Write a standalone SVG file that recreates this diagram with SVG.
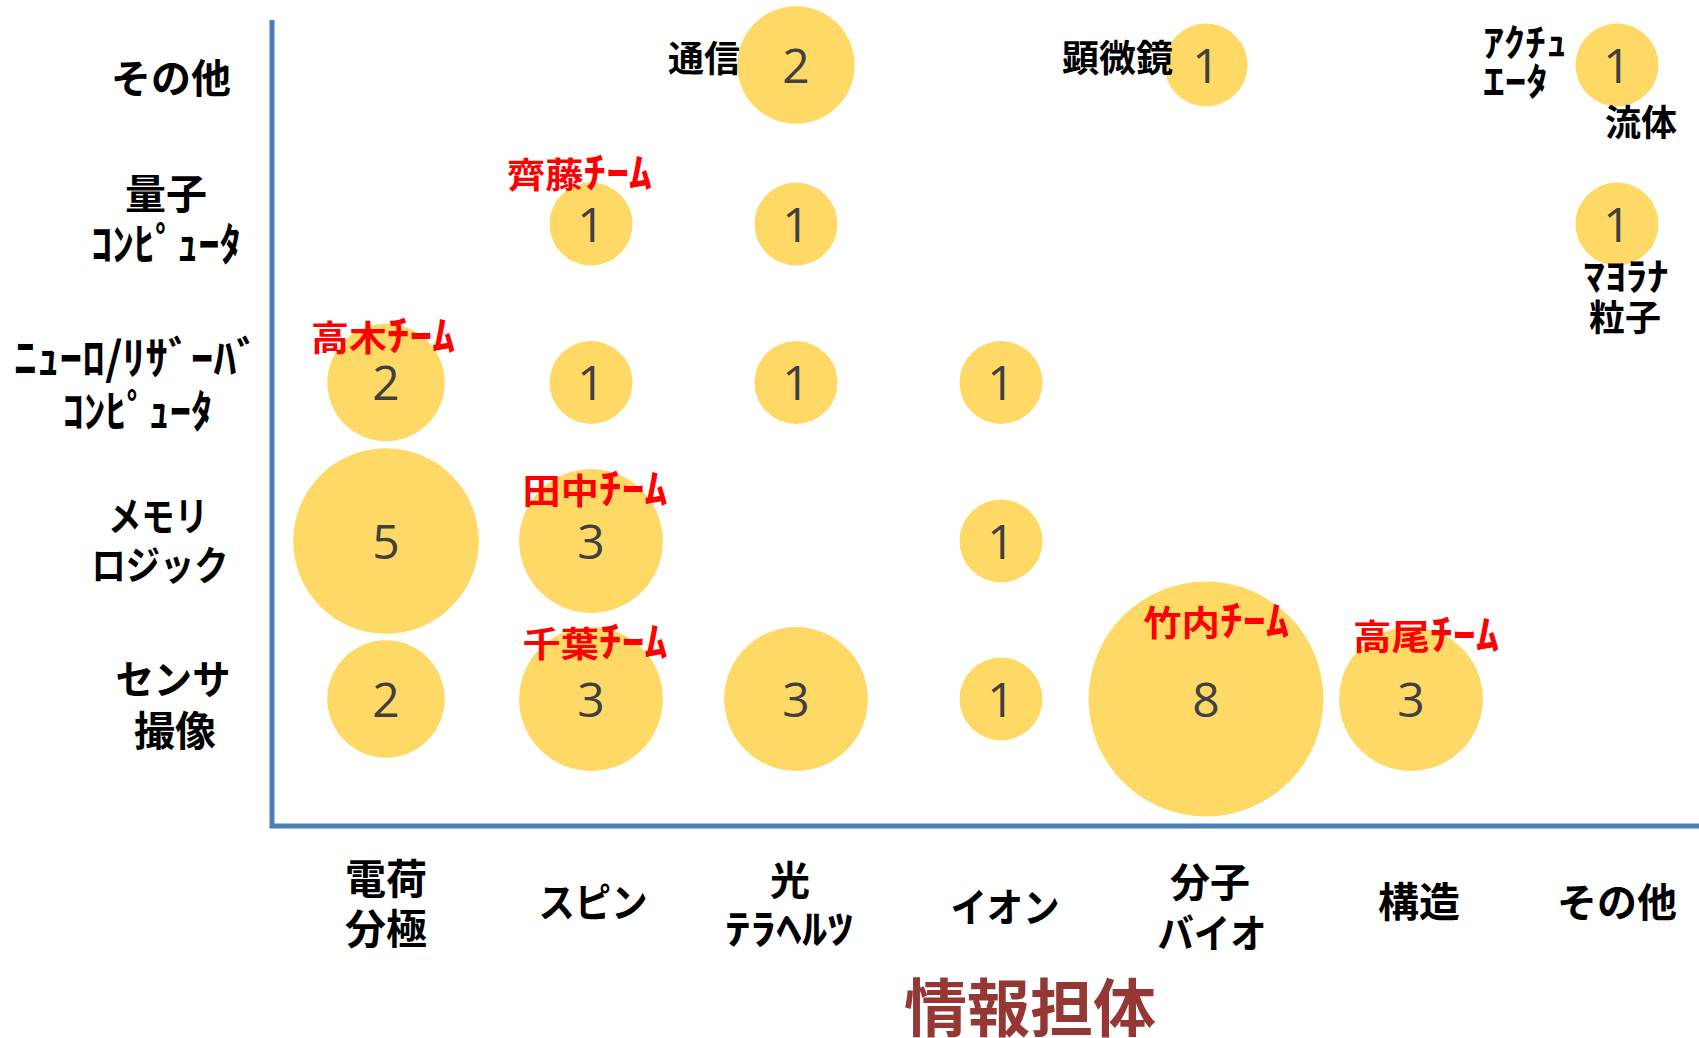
<svg xmlns="http://www.w3.org/2000/svg" width="1699" height="1038" viewBox="0 0 1699 1038">
<style>
.lbl{font-family:"Noto Sans CJK JP","Noto Sans",sans-serif;font-weight:700;fill:#000;text-anchor:middle}
.team{fill:#FF0000}
.title{fill:#953735}
.kana{font-size:42px}
.num{font-family:"Open Sans","Liberation Sans",sans-serif;font-size:48px;fill:#404040;text-anchor:middle}
.bub{fill:#FFD966}
.axis{fill:none;stroke:#4A7EBB;stroke-width:5}
</style>
<rect width="1699" height="1038" fill="#fff"/>
<g id="axes">
<polyline class="axis" points="272,20 272,826 1699,826"/>
</g>
<g id="connectors"/>
<g id="bubbles">
<g id="b-other-light"><circle class="bub" cx="796" cy="65" r="58.7"/><text class="num" x="796" y="82.5">2</text></g>
<g id="b-other-mol"><circle class="bub" cx="1206" cy="65" r="41.5"/><text class="num" x="1206" y="82.5">1</text></g>
<g id="b-other-other"><circle class="bub" cx="1617" cy="65" r="41.5"/><text class="num" x="1617" y="82.5">1</text></g>
<g id="b-qc-spin"><circle class="bub" cx="591" cy="224" r="41.5"/><text class="num" x="591" y="241.5">1</text></g>
<g id="b-qc-light"><circle class="bub" cx="796" cy="224" r="41.5"/><text class="num" x="796" y="241.5">1</text></g>
<g id="b-qc-other"><circle class="bub" cx="1617" cy="224" r="41.5"/><text class="num" x="1617" y="241.5">1</text></g>
<g id="b-nc-charge"><circle class="bub" cx="386" cy="382.5" r="58.7"/><text class="num" x="386" y="400">2</text></g>
<g id="b-nc-spin"><circle class="bub" cx="591" cy="382.5" r="41.5"/><text class="num" x="591" y="400">1</text></g>
<g id="b-nc-light"><circle class="bub" cx="796" cy="382.5" r="41.5"/><text class="num" x="796" y="400">1</text></g>
<g id="b-nc-ion"><circle class="bub" cx="1001" cy="382.5" r="41.5"/><text class="num" x="1001" y="400">1</text></g>
<g id="b-mem-charge"><circle class="bub" cx="386" cy="541" r="92.8"/><text class="num" x="386" y="558.5">5</text></g>
<g id="b-mem-spin"><circle class="bub" cx="591" cy="541" r="71.9"/><text class="num" x="591" y="558.5">3</text></g>
<g id="b-mem-ion"><circle class="bub" cx="1001" cy="541" r="41.5"/><text class="num" x="1001" y="558.5">1</text></g>
<g id="b-sen-charge"><circle class="bub" cx="386" cy="699" r="58.7"/><text class="num" x="386" y="716.5">2</text></g>
<g id="b-sen-spin"><circle class="bub" cx="591" cy="699" r="71.9"/><text class="num" x="591" y="716.5">3</text></g>
<g id="b-sen-light"><circle class="bub" cx="796" cy="699" r="71.9"/><text class="num" x="796" y="716.5">3</text></g>
<g id="b-sen-ion"><circle class="bub" cx="1001" cy="699" r="41.5"/><text class="num" x="1001" y="716.5">1</text></g>
<g id="b-sen-mol"><circle class="bub" cx="1206" cy="699" r="117.4"/><text class="num" x="1206" y="716.5">8</text></g>
<g id="b-sen-struct"><circle class="bub" cx="1411" cy="699" r="71.9"/><text class="num" x="1411" y="716.5">3</text></g>
</g>
<g id="row-labels">
<text class="lbl" x="171" y="93" font-size="40">その他</text>
<text class="lbl" x="166" y="209" font-size="41">量子</text>
<text class="lbl" x="166" y="261" font-size="45" textLength="150" lengthAdjust="spacingAndGlyphs">ｺﾝﾋﾟｭｰﾀ</text>
<text class="lbl" x="136.5" y="375" font-size="45" textLength="245" lengthAdjust="spacingAndGlyphs">ﾆｭｰﾛ/ﾘｻﾞｰﾊﾞ</text>
<text class="lbl" x="137.5" y="428" font-size="45" textLength="150" lengthAdjust="spacingAndGlyphs">ｺﾝﾋﾟｭｰﾀ</text>
<text class="lbl" x="158" y="531" font-size="40" textLength="100" lengthAdjust="spacingAndGlyphs">メモリ</text>
<text class="lbl" x="160" y="580" font-size="40" textLength="137" lengthAdjust="spacingAndGlyphs">ロジック</text>
<text class="lbl" x="173" y="694" font-size="40" textLength="115" lengthAdjust="spacingAndGlyphs">センサ</text>
<text class="lbl" x="175" y="746" font-size="41">撮像</text>
</g>
<g id="col-labels">
<text class="lbl" x="386" y="894" font-size="41">電荷</text>
<text class="lbl" x="386" y="944" font-size="41">分極</text>
<text class="lbl" x="593" y="917" font-size="40" textLength="109" lengthAdjust="spacingAndGlyphs">スピン</text>
<text class="lbl" x="790" y="895" font-size="40">光</text>
<text class="lbl" x="789" y="944" font-size="41" textLength="128" lengthAdjust="spacingAndGlyphs">ﾃﾗﾍﾙﾂ</text>
<text class="lbl" x="1005" y="922" font-size="40" textLength="109" lengthAdjust="spacingAndGlyphs">イオン</text>
<text class="lbl" x="1210" y="897" font-size="40">分子</text>
<text class="lbl" x="1212" y="948" font-size="40" textLength="109" lengthAdjust="spacingAndGlyphs">バイオ</text>
<text class="lbl" x="1419" y="917" font-size="41">構造</text>
<text class="lbl" x="1617" y="917" font-size="40">その他</text>
<text class="lbl title" x="1030" y="1031" font-size="63">情報担体</text>
</g>
<g id="item-labels">
<text class="lbl" x="704" y="71.5" font-size="36">通信</text>
<text class="lbl" x="1117.5" y="72" font-size="37">顕微鏡</text>
<text class="lbl" x="1483" y="56" font-size="38" style="text-anchor:start" textLength="84" lengthAdjust="spacingAndGlyphs">ｱｸﾁｭ</text>
<text class="lbl" x="1483" y="95" font-size="38" style="text-anchor:start" textLength="65" lengthAdjust="spacingAndGlyphs">ｴｰﾀ</text>
<text class="lbl" x="1641" y="136" font-size="36">流体</text>
<text class="lbl" x="1626" y="290" font-size="38" textLength="85" lengthAdjust="spacingAndGlyphs">ﾏﾖﾗﾅ</text>
<text class="lbl" x="1625" y="331" font-size="36">粒子</text>
</g>
<g id="team-labels">
<text class="lbl team" x="579.5" y="188" font-size="35" textLength="145" lengthAdjust="spacingAndGlyphs">齊藤<tspan class="kana">ﾁｰﾑ</tspan></text>
<text class="lbl team" x="383" y="351" font-size="35" textLength="144" lengthAdjust="spacingAndGlyphs">高木<tspan class="kana">ﾁｰﾑ</tspan></text>
<text class="lbl team" x="595" y="504" font-size="35" textLength="145" lengthAdjust="spacingAndGlyphs">田中<tspan class="kana">ﾁｰﾑ</tspan></text>
<text class="lbl team" x="595" y="657" font-size="35" textLength="145" lengthAdjust="spacingAndGlyphs">千葉<tspan class="kana">ﾁｰﾑ</tspan></text>
<text class="lbl team" x="1216" y="636" font-size="35" textLength="146" lengthAdjust="spacingAndGlyphs">竹内<tspan class="kana">ﾁｰﾑ</tspan></text>
<text class="lbl team" x="1426" y="650" font-size="35" textLength="146" lengthAdjust="spacingAndGlyphs">高尾<tspan class="kana">ﾁｰﾑ</tspan></text>
</g>
</svg>
